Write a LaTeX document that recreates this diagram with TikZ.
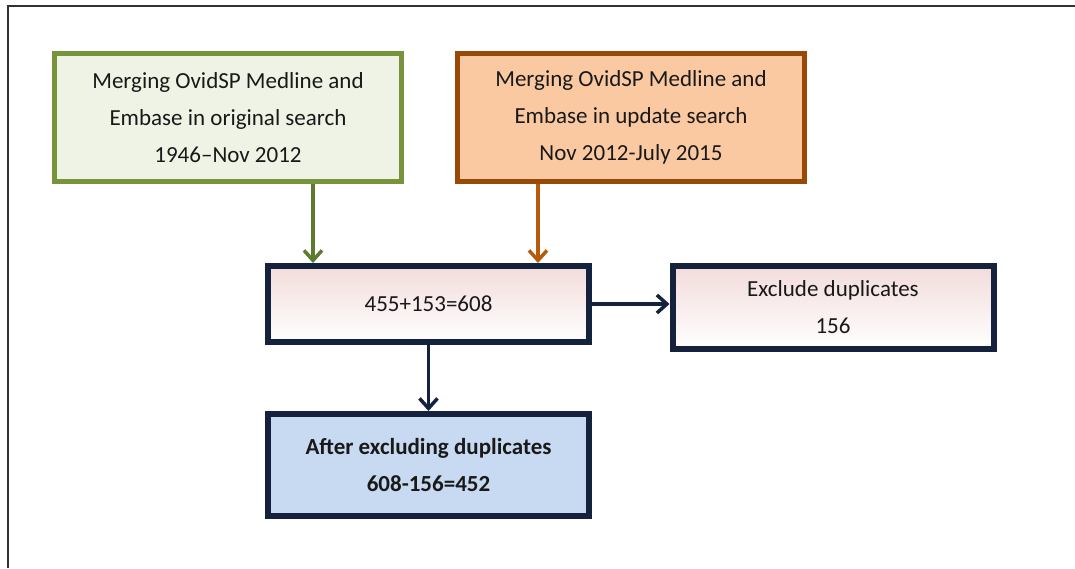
\documentclass[tikz,border=0pt]{standalone}
\usepackage{fontspec}
\setmainfont{Carlito}
\usetikzlibrary{positioning, arrows.meta}

\definecolor{leafgreen}{HTML}{77933C}
\definecolor{leafarrow}{HTML}{5F7A2E}
\definecolor{leaffill}{HTML}{EEF3E5}
\definecolor{rust}{HTML}{984807}
\definecolor{rustarrow}{HTML}{B85A0C}
\definecolor{peach}{HTML}{FAC9A1}
\definecolor{navy}{HTML}{15223D}
\definecolor{blush}{HTML}{F2DCDB}
\definecolor{skyfill}{HTML}{C8DAF1}

\tikzset{
  box/.style={draw, rectangle, align=center, text=black!90,
    font=\fontsize{23}{37}\selectfont, inner sep=0pt},
  srcbox/.style={box, line width=5pt, minimum width=347pt, minimum height=128pt},
  countbox/.style={box, draw=navy, line width=6pt, minimum width=321pt,
    top color=blush, bottom color=white},
  flow/.style={line width=3.5pt, -{Straight Barb[length=10pt,width=18pt]}}
}

\begin{document}
\begin{tikzpicture}[x=1pt, y=-1pt, on grid]
  \useasboundingbox (0,0) rectangle (1075,568);
  \draw[line width=2pt, black!80] (8,568) -- (8,6) -- (1075,6);

  \node[srcbox, draw=leafgreen, fill=leaffill] (orig) at (228,117.5)
    {Merging OvidSP Medline and\\Embase in original search\\1946--Nov 2012};
  \node[srcbox, draw=rust, fill=peach] (upd) [right=403pt of orig]
    {Merging OvidSP Medline and\\Embase in update search\\Nov 2012-July 2015};
  \node[countbox, minimum height=76pt] (merged) [below right=186.5pt and 200.5pt of orig]
    {455+153=608};
  \node[countbox, minimum height=83pt, yshift=-3.5pt] (dups) [right=404.5pt of merged]
    {Exclude duplicates\\156};
  \node[box, draw=navy, line width=6pt, fill=skyfill, minimum width=321pt,
    minimum height=102pt, font=\fontsize{23}{37}\selectfont\bfseries] (final) [below=161pt of merged]
    {After excluding duplicates\\608-156=452};

  \coordinate (ginto) at ([xshift=48pt]merged.north west);
  \coordinate (rinto) at ([xshift=-54pt]merged.north east);

  \draw[flow, leafarrow] (ginto |- orig.south) -- (ginto);
  \draw[flow, rustarrow] (rinto |- upd.south) -- (rinto);
  \draw[flow, navy] (merged.east) -- (merged.east -| dups.west);
  \draw[flow, navy] (merged) -- (final);
\end{tikzpicture}
\end{document}
